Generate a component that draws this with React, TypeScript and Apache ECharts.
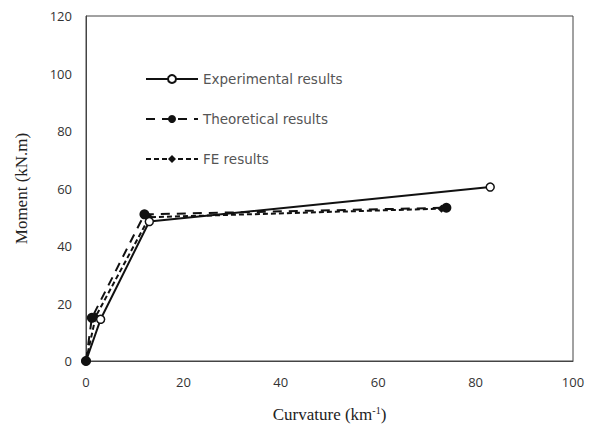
import React, { useEffect, useRef } from "react";
import * as echarts from "echarts";

const expX = [0, 3, 13, 83];
const expY = [0, 14.5, 48.5, 60.5];
const theoX = [0, 1.2, 12, 74];
const theoY = [0, 15, 51, 53.3];
const feX = [0, 2, 13, 73];
const feY = [0, 15.5, 50, 53];
const xTicks = [0, 20, 40, 60, 80, 100];
const yTicks = [0, 20, 40, 60, 80, 100, 120];

const pairs = (xs: number[], ys: number[]) => xs.map((x, i) => [x, ys[i]]);

export default function App() {
  const ref = useRef<HTMLDivElement>(null);
  useEffect(() => {
    const chart = echarts.init(ref.current!, null, { renderer: "svg" });
    chart.setOption({
      animation: false,
      backgroundColor: "#fff",
      grid: { left: 86, right: 24, top: 16, bottom: 69, show: true, borderColor: "#444", borderWidth: 1 },
      legend: {
        orient: "vertical",
        left: 140,
        top: 67,
        itemWidth: 52,
        itemHeight: 10,
        itemGap: 26,
        textStyle: { fontFamily: "DejaVu Sans", fontSize: 13.5, color: "#555" },
        data: ["Experimental results", "Theoretical results", "FE results"],
      },
      xAxis: {
        type: "value",
        min: 0,
        max: 100,
        interval: 20,
        name: "Curvature (km{sup|-1})",
        nameLocation: "middle",
        nameGap: 44,
        nameTextStyle: {
          fontFamily: "Liberation Serif",
          fontSize: 17,
          color: "#222",
          rich: { sup: { fontSize: 10, verticalAlign: "top", padding: [0, 0, 8, 0], fontFamily: "Liberation Serif", color: "#222" } },
        },
        axisLine: { lineStyle: { color: "#444", width: 1 } },
        axisTick: { show: false },
        splitLine: { show: false },
        axisLabel: { fontFamily: "Open Sans", fontSize: 13, color: "#333", margin: 14, formatter: (v: number) => (xTicks.includes(v) ? String(v) : "") },
      },
      yAxis: {
        type: "value",
        min: 0,
        max: 120,
        interval: 20,
        name: "Moment (kN.m)",
        nameLocation: "middle",
        nameGap: 56,
        nameRotate: 90,
        nameTextStyle: { fontFamily: "Liberation Serif", fontSize: 17, color: "#222" },
        axisLine: { show: true, lineStyle: { color: "#444", width: 1 } },
        axisTick: { show: false },
        splitLine: { show: false },
        axisLabel: { fontFamily: "Open Sans", fontSize: 13, color: "#333", margin: 14, formatter: (v: number) => (yTicks.includes(v) ? String(v) : "") },
      },
      series: [
        {
          name: "FE results",
          type: "line",
          data: pairs(feX, feY),
          symbol: "diamond",
          symbolSize: 8,
          lineStyle: { color: "#111", width: 2, type: [5, 3] },
          itemStyle: { color: "#111" },
          z: 2,
        },
        {
          name: "Experimental results",
          type: "line",
          data: pairs(expX, expY),
          symbol: "circle",
          symbolSize: 8,
          lineStyle: { color: "#111", width: 2 },
          itemStyle: { color: "#fff", borderColor: "#111", borderWidth: 1.5 },
          z: 3,
        },
        {
          name: "Theoretical results",
          type: "line",
          data: pairs(theoX, theoY),
          symbol: "circle",
          symbolSize: 10,
          lineStyle: { color: "#111", width: 2, type: [9, 7] },
          itemStyle: { color: "#111" },
          z: 4,
        },
      ],
    });
    return () => chart.dispose();
  }, []);
  return <div ref={ref} style={{ width: 597, height: 430, position: "absolute", left: 0, top: 0 }} />;
}
